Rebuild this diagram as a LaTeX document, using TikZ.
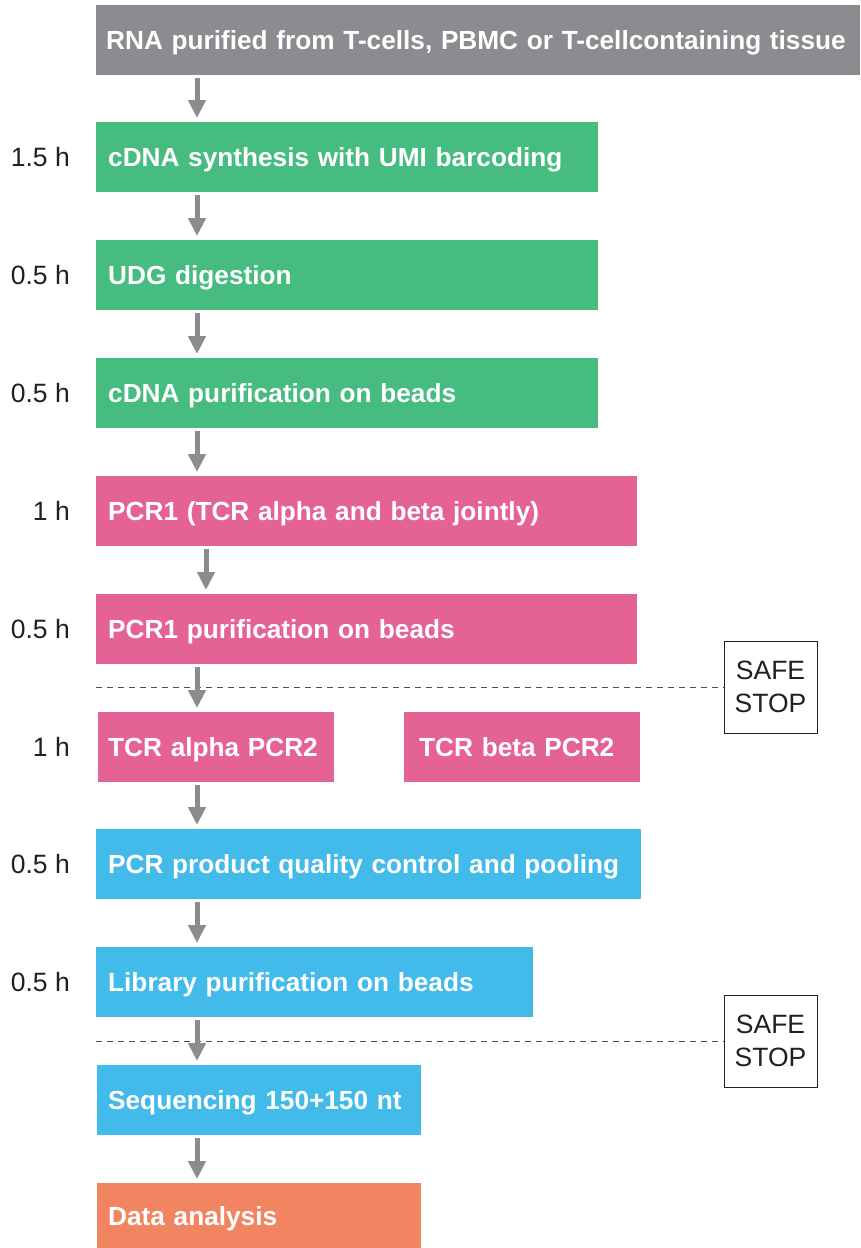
\documentclass[tikz,border=0pt]{standalone}
\usepackage{fontspec}
\setmainfont{Liberation Sans}
\usetikzlibrary{positioning, arrows.meta}
\definecolor{stepgray}{HTML}{8B8C8F}
\definecolor{stepgreen}{HTML}{46BC80}
\definecolor{steppink}{HTML}{E56294}
\definecolor{stepblue}{HTML}{42BAEA}
\definecolor{steporange}{HTML}{F28561}
\definecolor{textdark}{HTML}{231F20}

\begin{document}
\begin{tikzpicture}[
		% GLOBAL CFG
		x=1pt, y=-1pt,
		font=\fontsize{26.5}{32}\selectfont,
		>={Triangle[width=17pt,length=18pt]},
		% Styles
		stepbox/.style={% For the coloured steps
			rectangle,
			anchor=north west,
			align=left,
			inner xsep=12pt,
			inner ysep=0pt,
			minimum height=70pt,
			text height=19pt,
			text depth=0pt,
			text=white,
			font=\fontsize{26.2}{32}\selectfont\bfseries,
		},
		timelbl/.style={% For the durations on the left
			text=textdark,
			inner sep=0pt,
		},
		safestop/.style={% For the stop boxes
			rectangle,
			draw=textdark,
			line width=1pt,
			fill=white,
			minimum width=93pt,
			minimum height=92pt,
			align=center,
			text=textdark,
			font=\fontsize{26.5}{33}\selectfont,
		},
		flow/.style={% Arrows between steps
			->,
			draw=stepgray,
			line width=5pt,
			shorten <=3pt,
			shorten >=4pt,
		},
		stopline/.style={% Dashed lines to the stop boxes
			draw=textdark!80,
			line width=1pt,
			dash pattern=on 6pt off 5pt,
		},
		]
		\useasboundingbox (0,0) rectangle (860,1248);
		
		% Draw the steps
		\node [stepbox, fill=stepgray, inner xsep=10pt, text width=744pt] (rna) at (96,5) {\mbox{RNA purified from T-cells, PBMC or T-cellcontaining tissue}};
		\node [stepbox, fill=stepgreen, text width=478pt] (cdna) at (96,122) {cDNA synthesis with UMI barcoding};
		\node [stepbox, fill=stepgreen, text width=478pt] (udg) at (96,240) {UDG digestion};
		\node [stepbox, fill=stepgreen, text width=478pt] (cdnapur) at (96,358) {cDNA purification on beads};
		\node [stepbox, fill=steppink, text width=517pt] (pcr1) at (96,476) {PCR1 (TCR alpha and beta jointly)};
		\node [stepbox, fill=steppink, text width=517pt] (pcr1pur) at (96,594) {PCR1 purification on beads};
		\node [stepbox, fill=steppink, inner xsep=10pt, text width=216pt] (alpha) at (98,712) {TCR alpha PCR2};
		\node [stepbox, fill=steppink, inner xsep=15pt, text width=206pt] (beta) at (404,712) {TCR beta PCR2};
		\node [stepbox, fill=stepblue, text width=521pt] (qc) at (96,829) {PCR product quality control and pooling};
		\node [stepbox, fill=stepblue, text width=413pt] (libpur) at (96,947) {Library purification on beads};
		\node [stepbox, fill=stepblue, inner xsep=11pt, text width=302pt] (seq) at (97,1065) {Sequencing 150+150 nt};
		\node [stepbox, fill=steporange, inner xsep=11pt, text width=302pt, minimum height=65pt] (data) at (97,1183) {Data analysis};
		
		% Durations
		\node [timelbl, left=26pt of cdna] (t1) {1.5 h};
		\node [timelbl, left=26pt of udg] (t2) {0.5 h};
		\node [timelbl, left=26pt of cdnapur] (t3) {0.5 h};
		\node [timelbl, left=26pt of pcr1] (t4) {1 h};
		\node [timelbl, left=26pt of pcr1pur] (t5) {0.5 h};
		\node [timelbl, left=28pt of alpha] (t6) {1 h};
		\node [timelbl, left=26pt of qc] (t7) {0.5 h};
		\node [timelbl, left=26pt of libpur] (t8) {0.5 h};
		
		% Safe stops
		\node [safestop] (stop1) at (770.5,687) {SAFE\\STOP};
		\node [safestop] (stop2) at (770.5,1041) {SAFE\\STOP};
		\draw [stopline] (stop1.west -| pcr1pur.west) -- (stop1.west);
		\draw [stopline] (stop2.west -| libpur.west) -- (stop2.west);
		
		% Arrows
		\draw [flow] ([xshift=101pt]rna.south west) -- ([xshift=101pt]cdna.north west);
		\draw [flow] ([xshift=101pt]cdna.south west) -- ([xshift=101pt]udg.north west);
		\draw [flow] ([xshift=101pt]udg.south west) -- ([xshift=101pt]cdnapur.north west);
		\draw [flow] ([xshift=101pt]cdnapur.south west) -- ([xshift=101pt]pcr1.north west);
		\draw [flow] ([xshift=110pt]pcr1.south west) -- ([xshift=110pt]pcr1pur.north west);
		\draw [flow] ([xshift=101pt]pcr1pur.south west) -- ([xshift=99pt]alpha.north west);
		\draw [flow] ([xshift=99pt]alpha.south west) -- ([xshift=101pt]qc.north west);
		\draw [flow] ([xshift=101pt]qc.south west) -- ([xshift=101pt]libpur.north west);
		\draw [flow] ([xshift=101pt]libpur.south west) -- ([xshift=100pt]seq.north west);
		\draw [flow] ([xshift=100pt]seq.south west) -- ([xshift=100pt]data.north west);
		
	\end{tikzpicture}
\end{document}
